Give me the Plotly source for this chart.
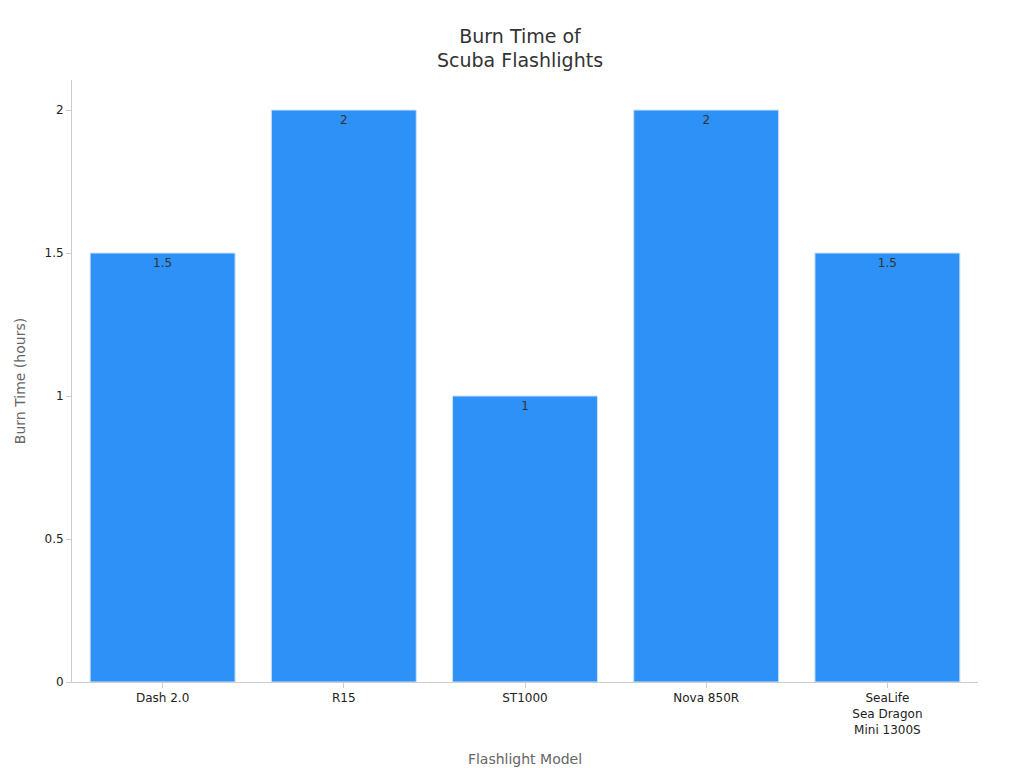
import plotly.graph_objects as go

models = ["Dash 2.0", "R15", "ST1000", "Nova 850R", "SeaLife<br>Sea Dragon<br>Mini 1300S"]
burn_hours = [1.5, 2, 1, 2, 1.5]
labels = ["1.5", "2", "1", "2", "1.5"]

fig = go.Figure(
    go.Bar(
        x=models,
        y=burn_hours,
        text=labels,
        textposition="inside",
        insidetextanchor="end",
        textfont=dict(color="#333333", size=12),
        marker=dict(color="#2e91f8", line=dict(color="#cfe3f7", width=1)),
        width=0.8,
        showlegend=False,
    )
)

fig.update_layout(
    width=1024,
    height=768,
    font=dict(family="DejaVu Sans", size=12, color="#222222"),
    title=dict(text="Burn Time of<br>Scuba Flashlights", x=0.5, y=0.955, xanchor="center",
               font=dict(size=19, color="#333333")),
    plot_bgcolor="white",
    paper_bgcolor="white",
    margin=dict(l=58, r=54, t=72, b=86),
)
fig.update_xaxes(
    title=dict(text="Flashlight Model", font=dict(size=14, color="#666666"), standoff=18),
    showline=True, linecolor="#cccccc", ticks="outside", tickcolor="#cccccc", ticklen=5,
)
fig.update_yaxes(
    title=dict(text="Burn Time (hours)", font=dict(size=14, color="#666666")),
    range=[0, 2.105], tickvals=[0, 0.5, 1, 1.5, 2], ticktext=["0", "0.5", "1", "1.5", "2"],
    showline=True, linecolor="#cccccc", ticks="outside", tickcolor="#cccccc", ticklen=5,
    showgrid=False, zeroline=False,
)

fig.write_html("out.html")
